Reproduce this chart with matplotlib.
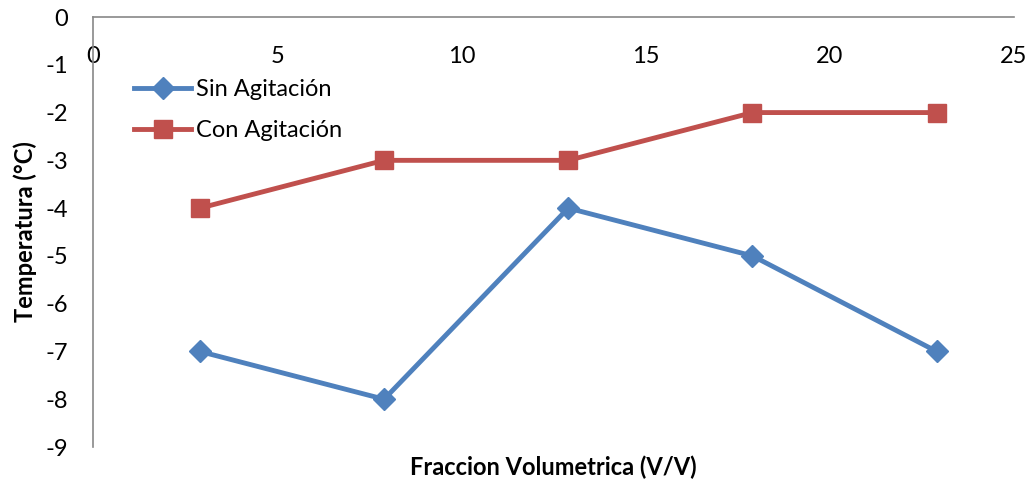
import matplotlib.pyplot as plt

plt.rcParams['font.family'] = ['Lato', 'DejaVu Sans']

# data
fraccion = [2.9, 7.9, 12.9, 17.9, 22.9]
sin_agitacion = [-7, -8, -4, -5, -7]
con_agitacion = [-4, -3, -3, -2, -2]
xticks = [0, 5, 10, 15, 20, 25]
yticks = [0, -1, -2, -3, -4, -5, -6, -7, -8, -9]

fig = plt.figure(figsize=(10.36, 4.82), dpi=100)
ax = fig.add_axes([0.0898, 0.0726, 0.8890, 0.8921])

ax.plot(fraccion, sin_agitacion, color='#4F81BD', lw=3.5, marker='D',
        ms=11, label='Sin Agitación')
ax.plot(fraccion, con_agitacion, color='#C0504D', lw=3.5, marker='s',
        ms=13, label='Con Agitación')

ax.set_xlim(0, 25)
ax.set_ylim(-9, 0)
ax.set_xticks(xticks)
ax.set_yticks(yticks)
ax.set_yticklabels([str(v) for v in yticks])

# x axis crosses at y=0 (top), like the excel chart
ax.spines['bottom'].set_position(('data', 0))
ax.spines['top'].set_visible(False)
ax.spines['right'].set_visible(False)
for s in ('bottom', 'left'):
    ax.spines[s].set_color('#888888')
    ax.spines[s].set_linewidth(1.2)
ax.tick_params(axis='x', length=0, pad=21, labelsize=17)
ax.tick_params(axis='y', length=0, pad=18, labelsize=17)

ax.set_xlabel('Fraccion Volumetrica (V/V)', fontsize=17, fontweight='bold',
              va='center')
ax.xaxis.set_label_coords(0.5, -0.048)
ax.set_ylabel('Temperatura (°C)', fontsize=17, fontweight='bold',
              va='center')
ax.yaxis.set_label_coords(-0.074, 0.5)

ax.legend(loc='upper left', bbox_to_anchor=(0.045, 0.855), frameon=False,
          fontsize=17, handlelength=2.4, handletextpad=0.2, borderpad=0,
          borderaxespad=0, labelspacing=0.85)

fig.savefig('out.png')
